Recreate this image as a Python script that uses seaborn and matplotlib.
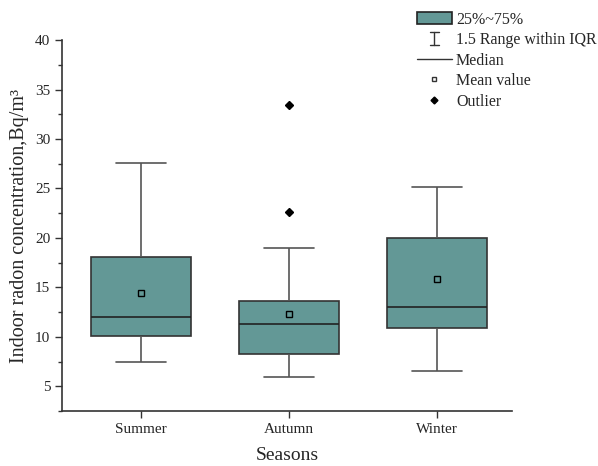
import numpy as np
import pandas as pd
import seaborn as sns
import matplotlib.pyplot as plt
from matplotlib.patches import Patch
from matplotlib.lines import Line2D
from matplotlib.legend_handler import HandlerBase
from matplotlib.ticker import MultipleLocator

# sample values per season, chosen so the box stats match the figure
summer = [7.5, 9.0, 10.1, 11.0, 12.0, 14.0, 18.1, 20.3, 27.6]
autumn = [5.9, 6.0, 6.2, 6.5, 8.3, 8.5, 8.8, 9.2, 11.3,
          11.5, 11.8, 12.2, 13.6, 14.3, 19.0, 22.6, 33.4]
winter = [6.5, 10.0, 10.9, 12.5, 13.0, 19.5, 20.0, 24.7, 25.1]
seasons = ['Summer', 'Autumn', 'Winter']

df = pd.DataFrame({
    'season': ['Summer'] * len(summer) + ['Autumn'] * len(autumn) + ['Winter'] * len(winter),
    'radon': summer + autumn + winter,
})

sns.set_style('ticks')
plt.rcParams['font.family'] = ['Liberation Serif', 'DejaVu Serif']

teal = '#639896'


class WhiskerHandler(HandlerBase):
    # little capped bar for the legend
    def create_artists(self, legend, orig_handle, xdescent, ydescent,
                       width, height, fontsize, trans):
        cx = width / 2 - xdescent
        y0, y1 = -ydescent, height - ydescent
        c = 3.5
        lines = [
            Line2D([cx, cx], [y0, y1]),
            Line2D([cx - c, cx + c], [y0, y0]),
            Line2D([cx - c, cx + c], [y1, y1]),
        ]
        for ln in lines:
            ln.set_color('#333333')
            ln.set_linewidth(1)
            ln.set_transform(trans)
        return lines


fig = plt.figure(figsize=(5.98, 4.66), dpi=100)
ax = fig.add_axes([0.1037, 0.118, 0.7525, 0.796])

sns.boxplot(data=df, x='season', y='radon', order=seasons, color=teal,
            saturation=1, width=0.67, whis=1.5, linewidth=1.2,
            linecolor='#333333', showmeans=True, capwidths=0.34,
            meanprops=dict(marker='s', markerfacecolor=teal, markeredgecolor='black',
                           markersize=4, markeredgewidth=1),
            flierprops=dict(marker='D', markerfacecolor='black', markeredgecolor='black',
                            markersize=3.8),
            whiskerprops=dict(color='#555555'), capprops=dict(color='#555555'),
            medianprops=dict(color='#222222'),
            ax=ax)

ax.set_ylim(2.5, 40)
ax.set_xlim(-0.534, 2.507)
ax.yaxis.set_major_locator(MultipleLocator(5))
ax.yaxis.set_minor_locator(MultipleLocator(2.5))
ax.set_yticks([5, 10, 15, 20, 25, 30, 35, 40])
ax.tick_params(axis='both', direction='out', length=5, width=1, labelsize=11, color='#333333')
ax.tick_params(axis='y', which='minor', length=3, width=1, color='#333333')
for s in ['top', 'right']:
    ax.spines[s].set_visible(False)
for s in ['left', 'bottom']:
    ax.spines[s].set_color('#333333')
    ax.spines[s].set_linewidth(1.2)

ax.set_xlabel('Seasons', fontsize=14, labelpad=8)
ax.set_ylabel('Indoor radon concentration,Bq/m³', fontsize=14.5, labelpad=4)

whisker_key = object()
handles = [
    Patch(facecolor=teal, edgecolor='#222222', linewidth=1.2),
    whisker_key,
    Line2D([], [], color='#333333', linewidth=1),
    Line2D([], [], linestyle='none', marker='s', markerfacecolor='white',
           markeredgecolor='#333333', markersize=3.5),
    Line2D([], [], linestyle='none', marker='D', color='black', markersize=3.5),
]
labels = ['25%~75%', '1.5 Range within IQR', 'Median', 'Mean value', 'Outlier']
fig.legend(handles, labels, loc='upper left', bbox_to_anchor=(0.697, 0.975),
           frameon=False, fontsize=11.5, handlelength=2.2, handleheight=0.85,
           handletextpad=0.25, labelspacing=0.28, borderpad=0, borderaxespad=0,
           handler_map={whisker_key: WhiskerHandler()})

plt.savefig('out.png', dpi=100)
